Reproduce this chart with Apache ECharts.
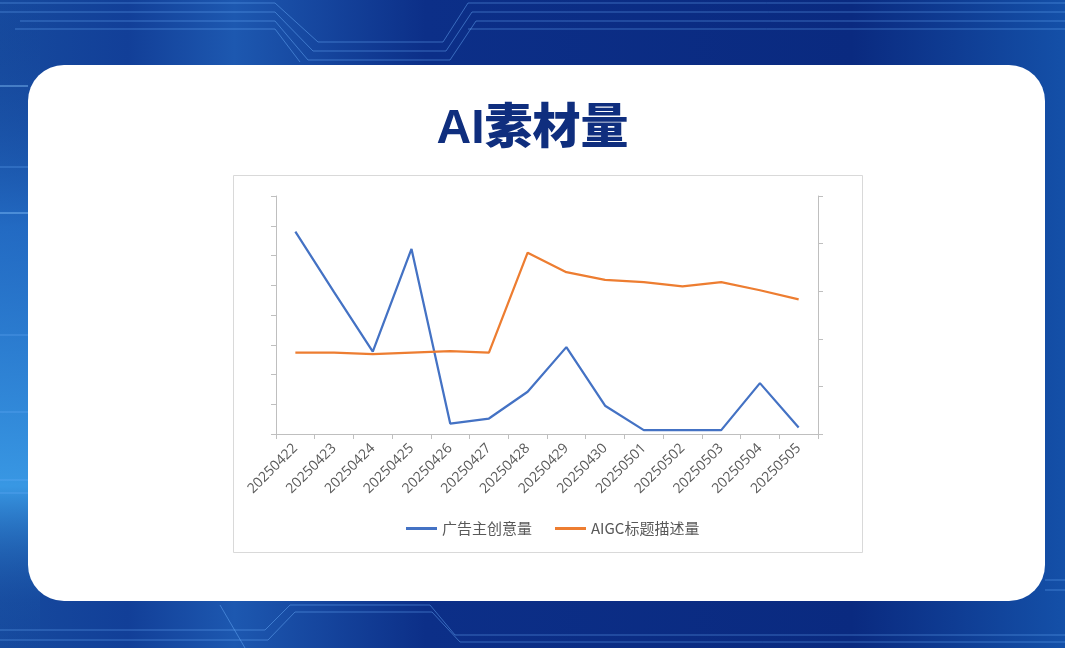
<!DOCTYPE html>
<html>
<head>
<meta charset="utf-8">
<script src="https://cdn.jsdelivr.net/npm/echarts@6/dist/echarts.min.js"></script>
<style>
  html, body { margin: 0; padding: 0; }
  #main { width: 1065px; height: 648px; }
</style>
</head>
<body>
<div id="main"></div>
<script>
// 日期
var dates = ['20250422', '20250423', '20250424', '20250425', '20250426', '20250427', '20250428',
             '20250429', '20250430', '20250501', '20250502', '20250503', '20250504', '20250505'];
// 广告主创意量（左轴）
var creativeCount = [6.8, 4.77, 2.77, 6.22, 0.35, 0.52, 1.42, 2.92, 0.95, 0.13, 0.13, 0.13, 1.71, 0.22];
// AIGC标题描述量（右轴）
var aigcCount = [1.71, 1.71, 1.68, 1.71, 1.74, 1.71, 3.81, 3.4, 3.24, 3.19, 3.1, 3.19, 3.02, 2.83];

var myChart = echarts.init(document.getElementById('main'));

var lineColor = 'rgba(110,180,255,0.45)';
function circuit(points, color) {
    return { type: 'polyline', silent: true, shape: { points: points },
             style: { stroke: color || lineColor, lineWidth: 1, fill: null } };
}

var option = {
    animation: false,
    graphic: [
        // 背景
        { type: 'rect', silent: true, z: -10, shape: { x: 0, y: 0, width: 1065, height: 648 },
          style: { fill: new echarts.graphic.LinearGradient(0, 0, 1, 0, [
              { offset: 0, color: '#164a9e' },
              { offset: 0.12, color: '#123f98' },
              { offset: 0.22, color: '#1d58b0' },
              { offset: 0.4, color: '#0c2f88' },
              { offset: 0.8, color: '#0a2a80' },
              { offset: 1, color: '#1450a8' }
          ]) } },
        { type: 'rect', silent: true, z: -9, shape: { x: 0, y: 0, width: 40, height: 648 },
          style: { fill: new echarts.graphic.LinearGradient(0, 0, 0, 1, [
              { offset: 0, color: 'rgba(20,60,140,0)' },
              { offset: 0.35, color: 'rgba(40,120,210,0.7)' },
              { offset: 0.75, color: 'rgba(60,160,235,0.9)' },
              { offset: 0.93, color: 'rgba(30,90,170,0.2)' },
              { offset: 1, color: 'rgba(30,90,170,0)' }
          ]) } },
        circuit([[0, 3], [275, 3], [318, 42], [443, 42], [468, 3], [1065, 3]]),
        circuit([[0, 12], [275, 12], [313, 51], [446, 51], [472, 12], [1065, 12]]),
        circuit([[20, 21], [275, 21], [308, 60], [450, 60], [476, 21], [1065, 21]]),
        circuit([[15, 29], [275, 29], [300, 62]]),
        circuit([[468, 29], [1065, 29]]),
        circuit([[0, 630], [265, 630], [290, 605], [430, 605], [455, 635], [1065, 635]]),
        circuit([[0, 640], [268, 640], [295, 612], [432, 612], [460, 642], [1065, 642]]),
        circuit([[220, 605], [245, 648]]),
        circuit([[1045, 580], [1065, 580]]),
        circuit([[1045, 590], [1065, 590]]),
        circuit([[0, 86], [28, 86]], 'rgba(140,200,255,0.8)'),
        circuit([[0, 167], [28, 167]]),
        circuit([[0, 213], [28, 213]], 'rgba(140,200,255,0.8)'),
        circuit([[0, 335], [28, 335]]),
        circuit([[0, 412], [28, 412]]),
        circuit([[0, 480], [28, 480]]),
        circuit([[0, 493], [28, 493]]),
        // 卡片
        { type: 'rect', silent: true, z: -5,
          shape: { x: 28, y: 65, width: 1017, height: 536, r: 36 },
          style: { fill: '#ffffff' } },
        { type: 'rect', silent: true, z: -4,
          shape: { x: 233.5, y: 175.5, width: 629, height: 377 },
          style: { fill: '#ffffff', stroke: '#d9d9d9', lineWidth: 1 } },
        { type: 'text', silent: true, left: 'center', top: 106,
          style: { text: 'AI素材量', fill: '#0f2e7e',
                   font: '900 48px "Liberation Sans", "Noto Sans CJK SC", sans-serif' } }
    ],
    legend: {
        left: 401,
        top: 516,
        itemWidth: 31,
        itemHeight: 3,
        itemGap: 23,
        icon: 'rect',
        textStyle: { color: '#595959', fontSize: 15, fontFamily: '"Noto Sans CJK SC", sans-serif' },
        data: ['广告主创意量', 'AIGC标题描述量']
    },
    grid: { left: 276, right: 247, top: 196, bottom: 214 },
    xAxis: {
        type: 'category',
        data: dates,
        boundaryGap: true,
        axisLine: { lineStyle: { color: '#bfbfbf', width: 1 } },
        axisTick: { show: true, length: 5, lineStyle: { color: '#bfbfbf' } },
        axisLabel: { rotate: 45, interval: 0, color: '#595959', fontSize: 14, margin: 12,
                     fontFamily: '"Open Sans", sans-serif' }
    },
    yAxis: [
        {
            type: 'value', min: 0, max: 8, interval: 1,
            axisLine: { show: true, lineStyle: { color: '#bfbfbf' } },
            axisTick: { show: true, length: 5, lineStyle: { color: '#bfbfbf' } },
            axisLabel: { show: false },
            splitLine: { show: false }
        },
        {
            type: 'value', min: 0, max: 5, interval: 1,
            axisLine: { show: true, lineStyle: { color: '#bfbfbf' } },
            axisTick: { show: true, length: 5, lineStyle: { color: '#bfbfbf' } },
            axisLabel: { show: false },
            splitLine: { show: false }
        }
    ],
    series: [
        {
            name: '广告主创意量',
            type: 'line',
            yAxisIndex: 0,
            data: creativeCount,
            symbol: 'none',
            itemStyle: { color: '#4472c4' },
            lineStyle: { color: '#4472c4', width: 2.25 }
        },
        {
            name: 'AIGC标题描述量',
            type: 'line',
            yAxisIndex: 1,
            data: aigcCount,
            symbol: 'none',
            itemStyle: { color: '#ed7d31' },
            lineStyle: { color: '#ed7d31', width: 2.25 }
        }
    ]
};

myChart.setOption(option);
</script>
</body>
</html>
